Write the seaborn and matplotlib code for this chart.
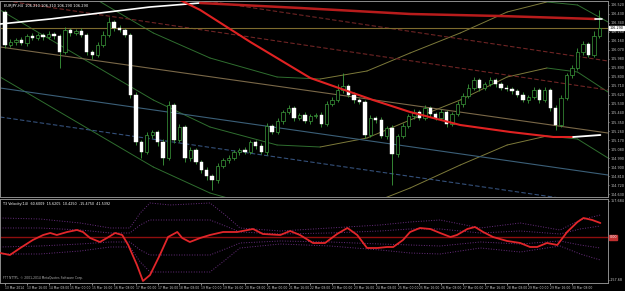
import matplotlib
matplotlib.use("Agg")
import matplotlib.pyplot as plt
import numpy as np
import pandas as pd
import seaborn as sns

# EURJPY H4 candles, bar 0 = oldest
first_open = 106.45
closes = [
    106.12, 106.15, 106.17, 106.14, 106.21, 106.19, 106.22, 106.20, 106.23, 106.21,
    106.05, 106.27, 106.24, 106.26, 106.22, 106.05, 106.02, 106.12, 106.22, 106.35,
    106.29, 106.27, 106.22, 105.62, 105.15, 105.05, 105.22, 105.25, 105.15, 104.99,
    105.52, 105.17, 105.30, 104.99, 105.07, 104.95, 104.87, 104.81, 104.77, 104.91,
    104.97, 104.99, 105.05, 105.07, 105.05, 105.15, 105.11, 105.05, 105.31, 105.25,
    105.36, 105.45, 105.49, 105.39, 105.42, 105.36, 105.41, 105.42, 105.33, 105.53,
    105.57, 105.67, 105.71, 105.62, 105.57, 105.55, 105.22, 105.39, 105.37, 105.21,
    105.29, 105.03, 105.21, 105.31, 105.41, 105.45, 105.39, 105.49, 105.43, 105.39,
    105.45, 105.33, 105.43, 105.53, 105.61, 105.69, 105.77, 105.69, 105.73, 105.77,
    105.73, 105.69, 105.68, 105.66, 105.62, 105.57, 105.60, 105.67, 105.57, 105.67,
    105.49, 105.32, 105.59, 105.82, 105.89, 106.05, 106.13, 106.02, 106.21, 106.29,
]
wick_up = [
    .02, .03, .02, .03, .02, .03, .02, .02, .03, .02,
    .02, .03, .02, .02, .03, .02, .02, .03, .04, .05,
    .02, .03, .02, .02, .03, .02, .03, .02, .02, .03,
    .04, .02, .03, .02, .03, .02, .02, .03, .02, .03,
    .02, .03, .02, .02, .03, .02, .02, .03, .03, .02,
    .03, .02, .03, .02, .02, .03, .02, .02, .03, .03,
    .03, .06, .13, .02, .03, .02, .02, .03, .02, .03,
    .02, .03, .02, .03, .02, .03, .02, .03, .02, .02,
    .03, .02, .02, .03, .03, .04, .03, .02, .02, .03,
    .02, .02, .03, .02, .02, .03, .02, .03, .02, .03,
    .02, .03, .03, .02, .03, .04, .03, .02, .05, .18,
]
wick_dn = [
    .03, .02, .03, .02, .03, .02, .02, .03, .02, .03,
    .16, .02, .03, .02, .02, .03, .04, .02, .02, .02,
    .03, .02, .02, .03, .03, .06, .02, .03, .04, .07,
    .02, .03, .02, .04, .03, .02, .03, .04, .10, .03,
    .02, .03, .02, .03, .02, .02, .03, .02, .03, .02,
    .02, .03, .02, .03, .02, .02, .03, .02, .03, .02,
    .02, .02, .03, .02, .03, .02, .03, .02, .03, .02,
    .03, .31, .03, .02, .02, .03, .02, .02, .03, .02,
    .02, .03, .02, .02, .03, .02, .02, .03, .02, .02,
    .03, .02, .02, .03, .02, .02, .03, .02, .03, .02,
    .03, .05, .02, .02, .03, .02, .03, .02, .02, .02,
]

# curved regression channel (bar position -> price)
channel_x = [-0.9, 16.9, 27.2, 37.6, 49.9, 57.8, 66.4, 74.3, 83.5, 92.1, 99.4, 105.0, 110.6]
channel_mid = [106.47, 105.90, 105.57, 105.30, 105.12, 105.10, 105.19, 105.37, 105.57, 105.80, 105.89, 105.85, 105.65]
channel_up = [107.14, 106.57, 106.24, 105.99, 105.80, 105.78, 105.86, 106.04, 106.24, 106.45, 106.55, 106.52, 106.35]
channel_dn = [105.80, 105.23, 104.90, 104.64, 104.45, 104.43, 104.52, 104.69, 104.92, 105.12, 105.21, 105.18, 104.99]

# straight trend lines: two end points each
full_x = [-0.9, 110.6]
maroon_a_x = [35.8, 110.6]
maroon_a = [106.57, 105.96]
maroon_b = [106.57, 105.67]
tan_line = [106.10, 105.24]
steel_line = [105.69, 104.82]
blue_dash = [105.40, 104.52]

# colour-switching moving averages
top_ma_white_x = [-0.9, 8.3, 17.4, 26.6, 35.8]
top_ma_white = [106.33, 106.38, 106.44, 106.50, 106.54]
top_ma_red_x = [35.8, 54.1, 74.3, 90.8, 108.3]
top_ma_red = [106.54, 106.49, 106.43, 106.41, 106.38]
top_ma_tail_x = [108.3, 109.5]
top_ma_tail = [106.38, 106.38]
slow_ma_x = [31.0, 35.8, 45.0, 56.0, 67.5, 74.3, 83.5, 92.7, 100.6, 104.2]
slow_ma = [106.60, 106.47, 106.15, 105.79, 105.57, 105.45, 105.32, 105.25, 105.20, 105.20]
slow_ma_tail_x = [104.2, 109.2]
slow_ma_tail = [105.20, 105.22]
last_price = 106.29

# oscillator panel
osc_x = [-0.9, 0.9, 2.8, 5.1, 7.0, 8.3, 9.5, 11.4, 13.2, 14.3, 15.6, 17.4, 18.7, 20.2, 21.5,
         22.6, 24.2, 25.3, 26.6, 28.4, 29.9, 31.6, 32.5, 33.9, 35.8, 37.6, 40.0, 42.6, 45.5,
         47.3, 50.5, 52.3, 54.1, 56.5, 58.7, 60.9, 62.8, 64.6, 66.4, 68.3, 70.1, 71.2, 73.0,
         74.3, 76.1, 78.0, 79.8, 81.7, 82.9, 84.8, 86.2, 87.7, 89.5, 92.1, 94.5, 96.3, 97.6,
         99.4, 101.3, 103.1, 105.0, 106.1, 107.7, 109.2]
osc_val = [-62, -70, -42, -10, 10, 18, 10, 22, 30, 22, -2, -18, -2, 18, 10,
           -30, -110, -174, -150, -70, 2, 22, -2, -18, -2, 10, 22, 22, 34,
           14, 10, 26, 10, -22, -22, 14, 38, 10, -42, -42, -38, -38, -10,
           22, 38, 34, 18, 2, 10, 34, 42, 22, 2, -14, -22, -38, -38,
           -22, -30, 22, 62, 78, 70, 58]
band_x = [-0.9, 6.4, 13.8, 19.3, 22.9, 24.8, 26.6, 30.3, 37.6, 40.4, 43.1, 50.5, 59.6,
          68.8, 74.3, 79.8, 87.2, 94.5, 101.8, 105.5, 109.2]
band_outer_up = [78, 74, 58, 38, 38, 98, 138, 130, 138, 90, 38, 26, 38, 50, 62, 70, 38, 58, 30, 70, 90]
band_inner_up = [38, 38, 30, 18, 18, 50, 70, 70, 70, 46, 22, 14, 18, 26, 34, 34, 18, 26, 14, 34, 46]
band_inner_dn = [-38, -34, -26, -18, -18, -50, -70, -70, -70, -46, -22, -14, -18, -26, -30, -34, -18, -26, -14, -30, -42]
band_outer_dn = [-66, -66, -54, -38, -38, -98, -138, -138, -138, -90, -42, -26, -34, -50, -62, -66, -42, -58, -34, -66, -90]

candle_green = "#3c9c3c"
frame = "#8c8c8c"
txt = "#c8c8c8"


def sloped(ax, xs, ys, up, down, lw=0.7, ls="-", z=2):
    for i in range(len(xs) - 1):
        c = up if ys[i + 1] >= ys[i] else down
        ax.plot(xs[i:i + 2], ys[i:i + 2], color=c, lw=lw, ls=ls, zorder=z,
                solid_capstyle="round")


def draw_candles(ax):
    opens = [first_open] + closes[:-1]
    df = pd.DataFrame({"bar": range(len(closes)), "open": opens, "close": closes})
    df["high"] = df[["open", "close"]].max(axis=1) + wick_up
    df["low"] = df[["open", "close"]].min(axis=1) - wick_dn
    df["body"] = (df["close"] - df["open"]).where((df["close"] - df["open"]).abs() > 0.004, 0.005)
    bull = df["close"] >= df["open"]
    ax.vlines(df["bar"], df["low"], df["high"], color=candle_green, lw=0.6, zorder=3)
    ax.bar(df["bar"][bull], df["body"][bull], bottom=df["open"][bull], width=0.62,
           color="black", edgecolor=candle_green, lw=0.5, zorder=4)
    ax.bar(df["bar"][~bull], df["body"][~bull], bottom=df["open"][~bull], width=0.62,
           color="white", edgecolor="white", lw=0.3, zorder=4)


def draw_main(ax):
    # channel lines
    sloped(ax, channel_x, channel_up, "#7d7a3a", "#2f6e2f")
    sloped(ax, channel_x, channel_mid, "#7d7a3a", "#2f6e2f")
    sloped(ax, channel_x, channel_dn, "#7d7a3a", "#2f6e2f")
    ax.plot(maroon_a_x, maroon_a, color="#6e2424", lw=0.8, ls=(0, (4, 2)), zorder=2)
    ax.plot(full_x, maroon_b, color="#6e2424", lw=0.8, ls=(0, (4, 2)), zorder=2)
    ax.plot(full_x, tan_line, color="#7a6848", lw=0.8, zorder=2)
    ax.plot(full_x, steel_line, color="#3b5f78", lw=0.8, zorder=2)
    ax.plot(full_x, blue_dash, color="#34507a", lw=0.8, ls=(0, (4, 2)), zorder=2)
    ax.axhline(last_price, color="#7d6b2e", lw=0.8, zorder=2)

    draw_candles(ax)

    sns.lineplot(x=top_ma_white_x, y=top_ma_white, ax=ax, color="white", lw=1.2, zorder=5)
    sns.lineplot(x=top_ma_red_x, y=top_ma_red, ax=ax, color="#b81c1c", lw=1.8, zorder=5)
    sns.lineplot(x=top_ma_tail_x, y=top_ma_tail, ax=ax, color="white", lw=1.2, zorder=5)
    sns.lineplot(x=slow_ma_x, y=slow_ma, ax=ax, color="#e02222", lw=1.5, zorder=5)
    sns.lineplot(x=slow_ma_tail_x, y=slow_ma_tail, ax=ax, color="white", lw=1.3, zorder=5)

    ax.set_ylim(104.60, 106.56)
    ticks = np.arange(104.63, 106.56, 0.09)
    ax.set_yticks(ticks)
    ax.set_yticklabels([f"{t:.3f}" for t in ticks])
    ax.annotate(f"{last_price:.3f}", xy=(1.0, last_price), xycoords=("axes fraction", "data"),
                xytext=(1.0, 0), textcoords="offset points", fontsize=2.4, color="black",
                va="center", ha="left",
                bbox=dict(boxstyle="square,pad=0.12", fc="white", ec="white"))
    ax.text(0.006, 0.985, "EURJPY,H4  106.210 106.310 106.190 106.290", transform=ax.transAxes,
            fontsize=2.6, color="white", va="top", ha="left")


def draw_osc(ax):
    for band in (band_outer_up, band_inner_up, band_inner_dn, band_outer_dn):
        ax.plot(band_x, band, color="#6a2e80", lw=0.7, ls=":", zorder=2)
    ax.axhline(0, color="#8e0e0e", lw=1.0, zorder=2)
    sns.lineplot(x=osc_x, y=osc_val, ax=ax, color="#e2262a", lw=1.3, zorder=4)
    ax.set_ylim(-182, 154)
    ax.set_yticks([146, -170])
    ax.set_yticklabels(["157.684", "-157.68"])
    ax.annotate("0.00", xy=(1.0, 0), xycoords=("axes fraction", "data"),
                xytext=(1.0, 0), textcoords="offset points", fontsize=2.4, color="white",
                va="center", ha="left",
                bbox=dict(boxstyle="square,pad=0.12", fc="#c03030", ec="#c03030"))
    ax.text(0.005, 0.97, "T3 Velocity(14)  60.6009  15.6205  10.4250  -15.4750  41.5392",
            transform=ax.transAxes, fontsize=2.4, color="white", va="top", ha="left")
    ax.text(0.005, 0.03, "FTT NTTPL, \u00a9 2001-2014 MetaQuotes Software Corp.",
            transform=ax.transAxes, fontsize=2.2, color="#b0b0b0", va="bottom", ha="left")

    times = pd.date_range("2014-03-13 00:00", periods=len(closes), freq="4h")
    label_bars = list(range(0, len(closes) - 2, 4))
    labels = [times[0].strftime("%d %b %Y")] + [times[b].strftime("%d %b %H:%M") for b in label_bars[1:]]
    ax.set_xticks(label_bars)
    ax.set_xticklabels(labels, ha="left")


sns.set_theme(style="dark", rc={"axes.facecolor": "black", "figure.facecolor": "black",
                                "savefig.facecolor": "black"})
plt.rcParams["font.family"] = ["DejaVu Sans"]

fig = plt.figure(figsize=(6.25, 2.91), dpi=100)
main_ax = fig.add_axes([0.0, 0.323, 0.9728, 0.6736])
osc_ax = fig.add_axes([0.0, 0.0275, 0.9728, 0.2887])

draw_main(main_ax)
draw_osc(osc_ax)

for a in (main_ax, osc_ax):
    a.set_facecolor("black")
    a.set_xlim(-0.92, 110.6)
    a.grid(False)
    a.set_xlabel("")
    a.set_ylabel("")
    a.yaxis.tick_right()
    for s in a.spines.values():
        s.set_color(frame)
        s.set_linewidth(0.7)
    a.tick_params(axis="y", colors=txt, labelsize=2.4, length=1.0, width=0.5, pad=0.6,
                  left=False, right=True)
    a.tick_params(axis="x", colors=txt, labelsize=2.2, length=1.2, width=0.5, pad=0.8)

main_ax.tick_params(axis="x", labelbottom=False, bottom=False)
osc_ax.tick_params(axis="x", bottom=True)

fig.savefig("out.png", dpi=100, facecolor="black")
